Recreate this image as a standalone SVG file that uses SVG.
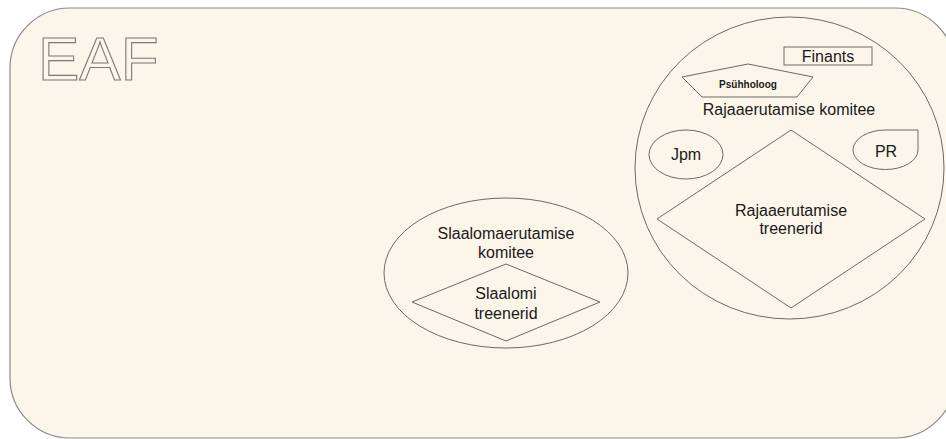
<svg xmlns="http://www.w3.org/2000/svg" width="946" height="439" viewBox="0 0 946 439">
<style>
.s{fill:#fcf5e9;stroke:#6a6a6a;stroke-width:1}
.t{font-family:"Liberation Sans",Arial,sans-serif;font-size:16px;fill:#1a1a1a;text-anchor:middle}
</style>
<rect width="946" height="439" fill="#ffffff"/>
<g id="eaf">
<rect x="10" y="8" width="945" height="430" rx="60" ry="60" fill="#fcf5e9" stroke="#8a8a8a" stroke-width="1.2"/>
<text x="38" y="80" font-family="Liberation Sans,Arial,sans-serif" font-size="62" fill="#fcf5e9" stroke="#7a7a7a" stroke-width="1.1">EAF</text>
</g>
<g id="raja-komitee">
<ellipse class="s" cx="789.5" cy="168" rx="154.5" ry="151"/>
<text class="t" x="789" y="115">Rajaaerutamise komitee</text>
</g>
<g id="finants">
<rect class="s" x="784" y="47" width="88" height="18"/>
<text class="t" x="828" y="62" font-size="15">Finants</text>
</g>
<g id="psuhholoog">
<polygon class="s" points="748,64 813,77 797,97 702,97 682,77"/>
<text class="t" x="748" y="88" style="font-size:10px;font-weight:bold">Psühholoog</text>
</g>
<g id="jpm">
<ellipse class="s" cx="686" cy="154.5" rx="37" ry="24.5"/>
<text class="t" x="686" y="160">Jpm</text>
</g>
<g id="pr">
<path class="s" d="M885.5,130 H918 V150 A32.5,19.5 0 0 1 885.5,169.5 A32.5,19.5 0 0 1 853,150 A32.5,20 0 0 1 885.5,130 Z"/>
<text class="t" x="886" y="157">PR</text>
</g>
<g id="raja-treenerid">
<polygon class="s" points="791,130 925,219 791,308 657,219"/>
<text class="t" x="791" y="216">Rajaaerutamise</text>
<text class="t" x="791" y="234">treenerid</text>
</g>
<g id="slaalom-komitee">
<ellipse class="s" cx="506" cy="273" rx="122" ry="75"/>
<text class="t" x="506" y="239">Slaalomaerutamise</text>
<text class="t" x="506" y="258">komitee</text>
</g>
<g id="slaalom-treenerid">
<polygon class="s" points="506,264 600,302 506,341 412,302"/>
<text class="t" x="506" y="299">Slaalomi</text>
<text class="t" x="506" y="319">treenerid</text>
</g>
<g id="connectors"></g>
</svg>
